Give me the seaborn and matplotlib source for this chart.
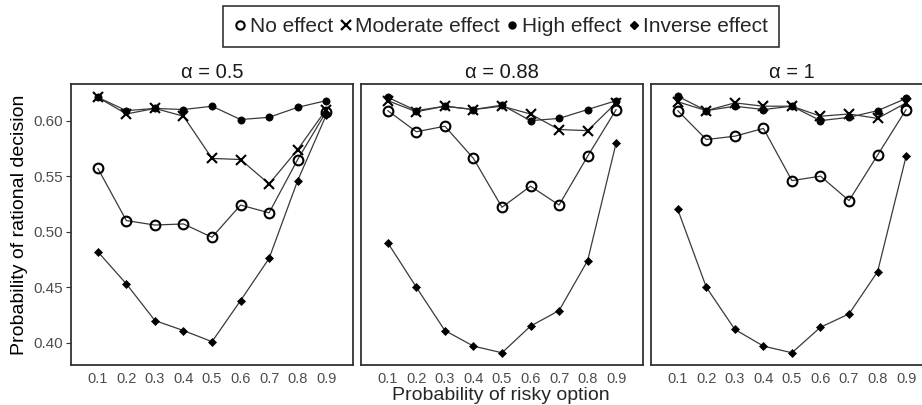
import pandas as pd
import numpy as np
import seaborn as sns
import matplotlib.pyplot as plt
from matplotlib.lines import Line2D

# Probability of the risky option (x axis)
p_risky = [0.1, 0.2, 0.3, 0.4, 0.5, 0.6, 0.7, 0.8, 0.9]
alphas = ['0.5', '0.88', '1']
effects = ['No effect', 'Moderate effect', 'High effect', 'Inverse effect']

# values, one list per panel and effect
no_05 = [0.557, 0.510, 0.506, 0.507, 0.495, 0.524, 0.517, 0.565, 0.608]
mod_05 = [0.621, 0.606, 0.611, 0.604, 0.566, 0.565, 0.543, 0.574, 0.610]
high_05 = [0.621, 0.609, 0.611, 0.610, 0.613, 0.601, 0.603, 0.612, 0.618]
inv_05 = [0.482, 0.453, 0.420, 0.411, 0.401, 0.438, 0.476, 0.546, 0.605]

no_088 = [0.609, 0.590, 0.595, 0.566, 0.522, 0.541, 0.524, 0.568, 0.610]
mod_088 = [0.618, 0.608, 0.613, 0.610, 0.613, 0.606, 0.592, 0.591, 0.616]
high_088 = [0.621, 0.609, 0.613, 0.610, 0.614, 0.600, 0.602, 0.610, 0.618]
inv_088 = [0.490, 0.450, 0.411, 0.397, 0.391, 0.415, 0.429, 0.474, 0.580]

no_1 = [0.609, 0.583, 0.586, 0.593, 0.546, 0.550, 0.528, 0.569, 0.610]
mod_1 = [0.617, 0.609, 0.616, 0.613, 0.613, 0.604, 0.606, 0.602, 0.616]
high_1 = [0.622, 0.609, 0.613, 0.610, 0.613, 0.600, 0.603, 0.609, 0.620]
inv_1 = [0.520, 0.450, 0.412, 0.397, 0.391, 0.414, 0.426, 0.464, 0.568]

panel_data = {
    '0.5': [no_05, mod_05, high_05, inv_05],
    '0.88': [no_088, mod_088, high_088, inv_088],
    '1': [no_1, mod_1, high_1, inv_1],
}

# Build a long dataframe
rows = []
for a in alphas:
    for eff, vals in zip(effects, panel_data[a]):
        for x, y in zip(p_risky, vals):
            rows.append({'alpha': a, 'effect': eff, 'p': x, 'prob': y})
df = pd.DataFrame(rows)

sns.set_style('white')
plt.rcParams['font.family'] = ['Liberation Sans', 'DejaVu Sans']

# marker styles per effect
styles = {
    'No effect': dict(marker='o', markersize=7, markerfacecolor='none', markeredgecolor='black', markeredgewidth=1.5),
    'Moderate effect': dict(marker='x', markersize=7.5, markeredgecolor='black', markeredgewidth=1.5),
    'High effect': dict(marker='o', markersize=5.2, markerfacecolor='black', markeredgecolor='black', markeredgewidth=0.5),
    'Inverse effect': dict(marker='D', markersize=4.2, markerfacecolor='black', markeredgecolor='black', markeredgewidth=0.5),
}

fig = plt.figure(figsize=(9.22, 4.05), dpi=100)
lefts = [0.0767, 0.3912, 0.7057]
axes = []
for i, a in enumerate(alphas):
    ax = fig.add_axes([lefts[i], 0.0988, 0.3065, 0.6938])
    axes.append(ax)
    sub = df[df['alpha'] == a]
    for eff in effects:
        d = sub[sub['effect'] == eff]
        sns.lineplot(data=d, x='p', y='prob', ax=ax, color='#3a3a3a', linewidth=0.9,
                     **styles[eff])
    ax.set_xlim(0.005, 0.995)
    ax.set_ylim(0.380, 0.633)
    ax.set_xticks(p_risky)
    ax.set_xticklabels([str(x) for x in p_risky])
    ax.set_yticks([0.40, 0.45, 0.50, 0.55, 0.60])
    ax.set_yticklabels(['0.40', '0.45', '0.50', '0.55', '0.60'])
    ax.set_title('\u03b1 = ' + a, fontsize=14.5, color='#1a1a1a', pad=4)
    ax.set_xlabel('')
    ax.set_ylabel('')
    for s in ax.spines.values():
        s.set_color('#333333')
        s.set_linewidth(1.3)
    ax.tick_params(axis='x', length=3.5, width=0.8, color='#333333',
                   labelsize=10.5, labelcolor='#4d4d4d', pad=1.5)
    ax.tick_params(axis='y', length=3.5, width=0.8, color='#333333',
                   labelsize=11, labelcolor='#4d4d4d', pad=2, left=(i == 0))
    if i > 0:
        ax.set_yticklabels([])

axes[0].set_ylabel('Probability of rational decision', fontsize=14, color='black', labelpad=4)
fig.text(0.5434, 0.024, 'Probability of risky option', fontsize=14, ha='center', va='center')

# Legend on top
handles = []
leg_styles = {
    'No effect': dict(marker='o', markersize=6, markerfacecolor='none', markeredgecolor='black', markeredgewidth=1.5),
    'Moderate effect': dict(marker='x', markersize=6.5, markeredgecolor='black', markeredgewidth=1.6),
    'High effect': dict(marker='o', markersize=5, markerfacecolor='black', markeredgecolor='black'),
    'Inverse effect': dict(marker='D', markersize=4, markerfacecolor='black', markeredgecolor='black'),
}
for eff in effects:
    handles.append(Line2D([], [], linestyle='none', **leg_styles[eff]))
leg = fig.legend(handles, effects, loc='center', bbox_to_anchor=(0.5434, 0.9346), ncol=4,
                 frameon=True, fancybox=False, fontsize=15, handlelength=0.6,
                 handletextpad=0.15, columnspacing=0.3, borderpad=0.55, borderaxespad=0)
leg.get_frame().set_edgecolor('black')
leg.get_frame().set_linewidth(1.2)

plt.savefig('out.png', dpi=100)
